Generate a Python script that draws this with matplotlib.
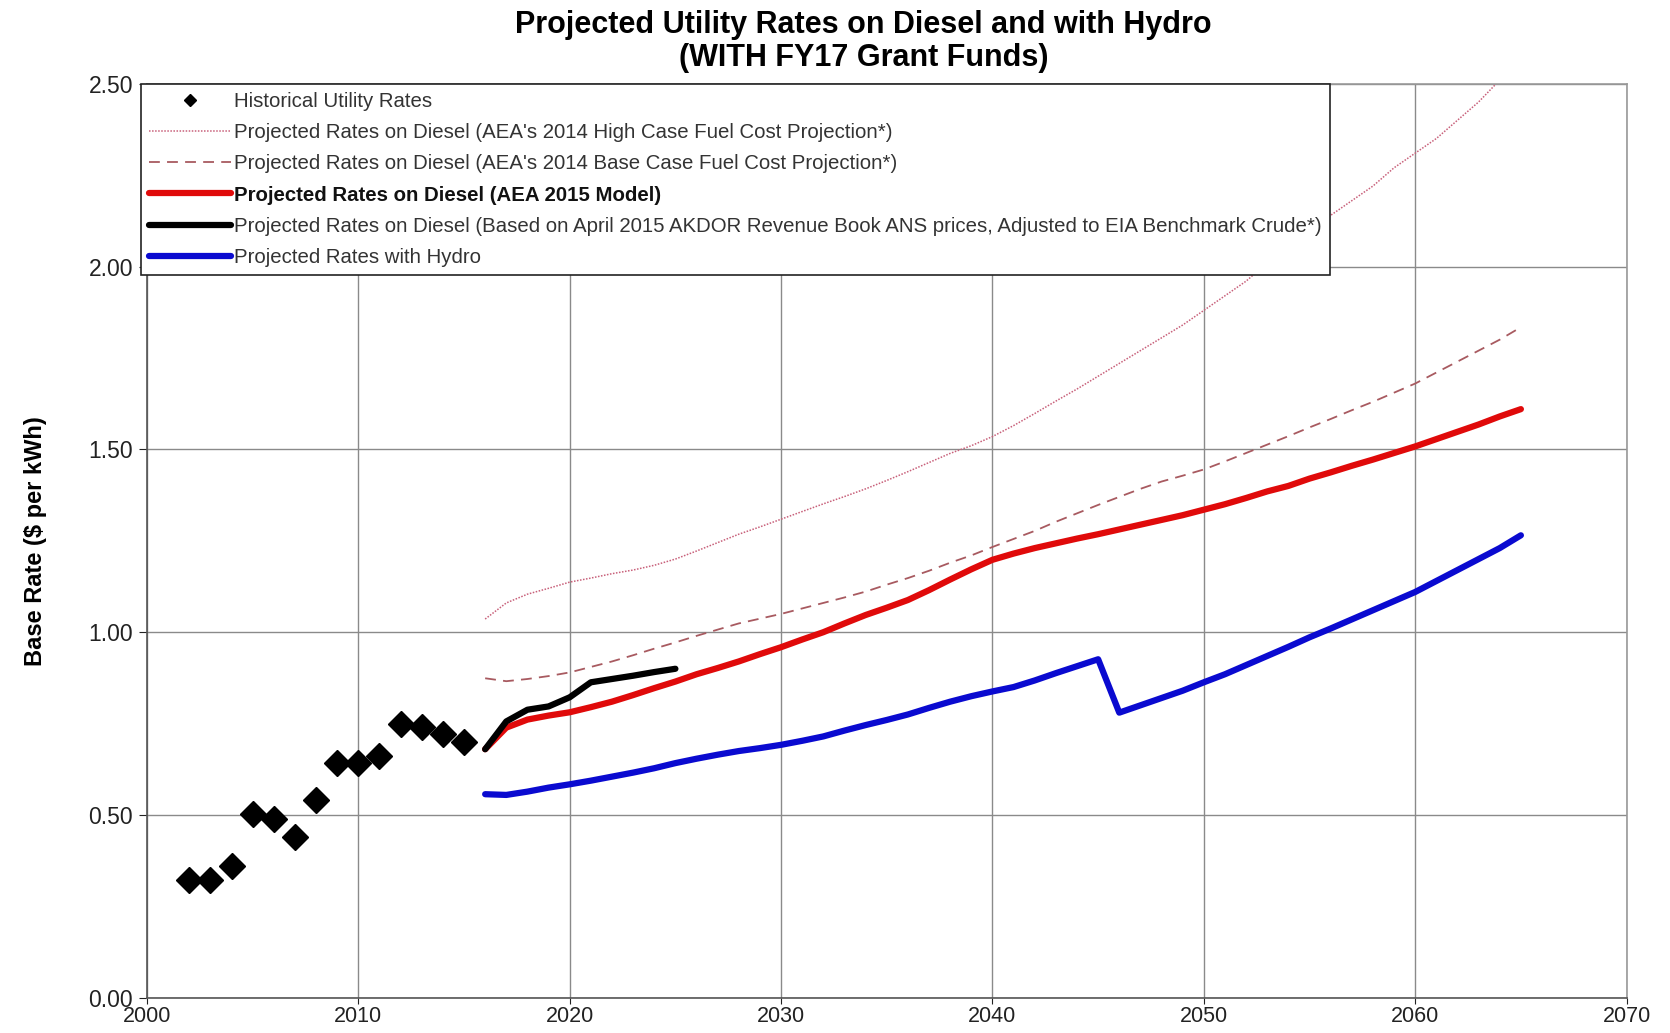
import matplotlib.pyplot as plt
import numpy as np

# historical utility rates
hist_years = list(range(2002, 2016))
hist_rates = [0.322, 0.322, 0.361, 0.502, 0.488, 0.440, 0.540,
              0.641, 0.641, 0.662, 0.749, 0.742, 0.722, 0.701]

proj_years = list(range(2016, 2066))

high_case = [1.036, 1.080, 1.104, 1.120, 1.137, 1.148, 1.160, 1.170, 1.183, 1.200,
             1.222, 1.245, 1.268, 1.288, 1.309, 1.330, 1.351, 1.371, 1.392, 1.415,
             1.439, 1.464, 1.489, 1.510, 1.535, 1.565, 1.598, 1.632, 1.665, 1.700,
             1.735, 1.770, 1.805, 1.840, 1.880, 1.920, 1.960, 2.010, 2.050, 2.100,
             2.140, 2.180, 2.220, 2.270, 2.310, 2.350, 2.400, 2.450, 2.510, 2.560]

base_case = [0.874, 0.866, 0.872, 0.880, 0.890, 0.905, 0.920, 0.937, 0.955, 0.972,
             0.990, 1.007, 1.024, 1.037, 1.050, 1.065, 1.080, 1.095, 1.111, 1.130,
             1.148, 1.168, 1.190, 1.210, 1.233, 1.255, 1.277, 1.302, 1.325, 1.348,
             1.370, 1.392, 1.412, 1.428, 1.445, 1.467, 1.490, 1.513, 1.536, 1.560,
             1.583, 1.607, 1.630, 1.655, 1.680, 1.710, 1.740, 1.770, 1.800, 1.834]

aea_2015 = [0.680, 0.739, 0.761, 0.772, 0.781, 0.795, 0.810, 0.828, 0.847, 0.865,
            0.885, 0.902, 0.920, 0.940, 0.959, 0.980, 1.000, 1.024, 1.047, 1.067,
            1.088, 1.115, 1.144, 1.172, 1.198, 1.215, 1.230, 1.243, 1.256, 1.268,
            1.281, 1.294, 1.307, 1.320, 1.335, 1.350, 1.367, 1.385, 1.400, 1.420,
            1.437, 1.455, 1.472, 1.490, 1.508, 1.528, 1.548, 1.568, 1.590, 1.610]

akdor_years = list(range(2016, 2026))
akdor = [0.680, 0.756, 0.788, 0.797, 0.822, 0.863, 0.872, 0.881, 0.891, 0.900]

hydro = [0.557, 0.555, 0.564, 0.575, 0.584, 0.594, 0.605, 0.616, 0.628, 0.642,
         0.654, 0.665, 0.675, 0.683, 0.692, 0.703, 0.715, 0.731, 0.746, 0.760,
         0.775, 0.793, 0.810, 0.825, 0.838, 0.850, 0.868, 0.888, 0.907, 0.926,
         0.780, 0.800, 0.820, 0.840, 0.863, 0.885, 0.910, 0.935, 0.960, 0.986,
         1.010, 1.035, 1.060, 1.085, 1.110, 1.140, 1.170, 1.200, 1.230, 1.265]

plt.rcParams['font.family'] = ['Liberation Sans', 'DejaVu Sans']

fig = plt.figure(figsize=(16.7, 10.33), dpi=100)
ax = fig.add_axes([0.088, 0.034, 0.886, 0.885])

ax.plot(hist_years, hist_rates, linestyle='none', marker='D', color='black',
        markersize=13, label='Historical Utility Rates')
ax.plot(proj_years, high_case, linestyle=(0, (1, 1)), color='#c8607a', linewidth=1.1,
        label="Projected Rates on Diesel (AEA's 2014 High Case Fuel Cost Projection*)")
ax.plot(proj_years, base_case, linestyle=(0, (6, 4)), color='#a85a60', linewidth=1.3,
        label="Projected Rates on Diesel (AEA's 2014 Base Case Fuel Cost Projection*)")
ax.plot(proj_years, aea_2015, color='#e00a0a', linewidth=4.5, solid_capstyle='round',
        label='Projected Rates on Diesel (AEA 2015 Model)')
ax.plot(akdor_years, akdor, color='black', linewidth=4.5, solid_capstyle='round',
        label='Projected Rates on Diesel (Based on April 2015 AKDOR Revenue Book ANS prices, '
              'Adjusted to EIA Benchmark Crude*)')
ax.plot(proj_years, hydro, color='#0a0ad0', linewidth=4.5, solid_capstyle='round',
        label='Projected Rates with Hydro')

ax.set_xlim(2000, 2070)
ax.set_ylim(0, 2.5)
ax.set_xticks(range(2000, 2071, 10))
ax.set_yticks(np.arange(0, 2.51, 0.5))
ax.set_yticklabels(['%.2f' % v for v in np.arange(0, 2.51, 0.5)])
ax.tick_params(axis='y', labelsize=16.5, colors='#222222', length=6, pad=4)
ax.tick_params(axis='x', labelsize=15.5, colors='#222222', length=4, pad=2)
ax.grid(color='#8a8a8a', linewidth=1)
ax.set_axisbelow(True)
for s in ax.spines.values():
    s.set_color('#555555')
    s.set_linewidth(1.2)
ax.spines['top'].set_color('#999999')
ax.spines['right'].set_color('#999999')

ax.set_ylabel('Base Rate ($ per kWh)', fontsize=17, fontweight='bold', labelpad=30)

fig.text(0.517, 0.99, 'Projected Utility Rates on Diesel and with Hydro\n(WITH FY17 Grant Funds)',
         ha='center', va='top', fontsize=22, fontweight='bold', linespacing=1.12)

leg = ax.legend(loc='upper left', bbox_to_anchor=(-0.004, 1.0), borderaxespad=0,
                fontsize=14.7, handlelength=4.0, labelspacing=0.6, handletextpad=0.15,
                fancybox=False, edgecolor='#222222', framealpha=1, borderpad=0.4)
leg.get_frame().set_linewidth(1.2)
for i, t in enumerate(leg.get_texts()):
    t.set_color('#333333')
    if i == 3:
        t.set_fontweight('bold')
        t.set_color('#111111')
leg.legend_handles[0].set_markersize(6)

fig.savefig('out.png', dpi=100)
